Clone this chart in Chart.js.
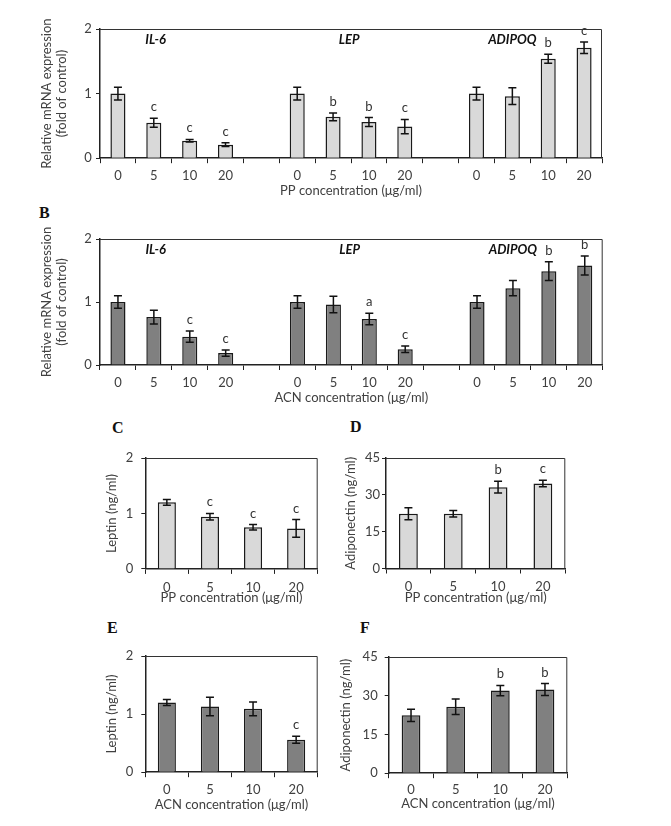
<!DOCTYPE html>
<html>
<head>
<meta charset="utf-8">
<script src="https://cdn.jsdelivr.net/npm/chart.js@4.4.0/dist/chart.umd.min.js"></script>
<style>
  body { margin: 0; background: #fff; width: 671px; height: 826px; position: relative; overflow: hidden; }
  canvas { position: absolute; }
  .tag { position: absolute; font: bold 16px "Liberation Serif", serif; color: #111; line-height: 16px; }
</style>
</head>
<body>
<div class="tag" style="left:39px;top:205px">B</div>
<div class="tag" style="left:112px;top:420px">C</div>
<div class="tag" style="left:350px;top:419px">D</div>
<div class="tag" style="left:107px;top:620px">E</div>
<div class="tag" style="left:360px;top:620px">F</div>
<script>
// doses (µg/ml) and gene names
const doses = ['0', '5', '10', '20'];
const genes = ['IL-6', 'LEP', 'ADIPOQ'];

// A: PP, relative mRNA (fold of control)
const ppIL6 = [1.00, 0.55, 0.27, 0.21];
const ppIL6Err = [0.10, 0.07, 0.02, 0.03];
const ppIL6Sig = ['', 'c', 'c', 'c'];
const ppLEP = [1.00, 0.64, 0.56, 0.49];
const ppLEPErr = [0.10, 0.06, 0.07, 0.11];
const ppLEPSig = ['', 'b', 'b', 'c'];
const ppADIPOQ = [1.00, 0.96, 1.54, 1.71];
const ppADIPOQErr = [0.10, 0.13, 0.07, 0.09];
const ppADIPOQSig = ['', '', 'b', 'c'];

// B: ACN, relative mRNA (fold of control)
const acnIL6 = [1.00, 0.76, 0.45, 0.19];
const acnIL6Err = [0.10, 0.11, 0.09, 0.05];
const acnIL6Sig = ['', '', 'c', 'c'];
const acnLEP = [1.00, 0.96, 0.73, 0.25];
const acnLEPErr = [0.10, 0.13, 0.09, 0.05];
const acnLEPSig = ['', '', 'a', 'c'];
const acnADIPOQ = [1.00, 1.22, 1.49, 1.58];
const acnADIPOQErr = [0.10, 0.12, 0.15, 0.15];
const acnADIPOQSig = ['', '', 'b', 'b'];

// C-F: secreted proteins
const ppLeptin = [1.20, 0.94, 0.75, 0.73];
const ppLeptinErr = [0.05, 0.06, 0.05, 0.16];
const ppLeptinSig = ['', 'c', 'c', 'c'];
const ppAdipo = [22.3, 22.3, 33.1, 34.6];
const ppAdipoErr = [2.4, 1.3, 2.4, 1.3];
const ppAdipoSig = ['', '', 'b', 'c'];
const acnLeptin = [1.20, 1.13, 1.09, 0.56];
const acnLeptinErr = [0.05, 0.16, 0.12, 0.06];
const acnLeptinSig = ['', '', '', 'c'];
const acnAdipo = [22.4, 25.7, 32.0, 32.4];
const acnAdipoErr = [2.4, 3.0, 2.0, 2.3];
const acnAdipoSig = ['', '', 'b', 'b'];

const FONT = 'Lato, "Open Sans", sans-serif';
const TXT = '#404040';
const LIGHT = '#d9d9d9';
const DARK = '#808080';

// three gene groups with an empty slot between them
function grouped(a, b, c) {
  return [...a, null, ...b, null, ...c];
}
const mrnaLabels = [...doses, '', ...doses, '', ...doses];

const barExtras = {
  id: 'barExtras',
  afterDatasetsDraw(chart, args, opts) {
    const { ctx, chartArea: ca, scales: { x, y } } = chart;
    const meta = chart.getDatasetMeta(0);
    ctx.save();
    ctx.strokeStyle = '#111';
    ctx.lineWidth = 1.5;
    meta.data.forEach((bar, i) => {
      const v = opts.values[i];
      if (v == null) return;
      const e = opts.errors[i];
      const top = y.getPixelForValue(v + e);
      const bot = y.getPixelForValue(v - e);
      ctx.beginPath();
      ctx.moveTo(bar.x, top); ctx.lineTo(bar.x, bot);
      ctx.moveTo(bar.x - 4, top); ctx.lineTo(bar.x + 4, top);
      ctx.moveTo(bar.x - 4, bot); ctx.lineTo(bar.x + 4, bot);
      ctx.stroke();
      if (opts.sig[i]) {
        ctx.fillStyle = '#333';
        ctx.font = '13px ' + FONT;
        ctx.textAlign = 'center';
        ctx.textBaseline = 'alphabetic';
        ctx.fillText(opts.sig[i], bar.x, top - 7);
      }
    });
    // gene names
    (opts.genes || []).forEach(g => {
      ctx.fillStyle = '#111';
      ctx.font = 'italic bold 13px ' + FONT;
      ctx.textAlign = 'center';
      ctx.textBaseline = 'middle';
      ctx.fillText(g.text, x.getPixelForValue(g.at), ca.top + 11);
    });
    // frame top and right
    ctx.strokeStyle = '#333';
    ctx.lineWidth = 1;
    ctx.beginPath();
    ctx.moveTo(ca.left, ca.top + 0.5); ctx.lineTo(ca.right - 0.5, ca.top + 0.5); ctx.lineTo(ca.right - 0.5, ca.bottom);
    ctx.stroke();
    ctx.restore();
  }
};

function panel(cfg) {
  const [pl, pt, pr, pb] = cfg.plot;
  const tSize = 13, lh = tSize * 1.2;
  const left = cfg.canvasLeft;
  const top = pt - cfg.padTop;
  const xAxisH = cfg.xTitleGap + lh / 2;
  const c = document.createElement('canvas');
  c.width = Math.round(pr + 12 - left);
  c.height = Math.round(pb + xAxisH - top);
  c.style.left = left + 'px';
  c.style.top = top + 'px';
  document.body.appendChild(c);
  new Chart(c, {
    type: 'bar',
    data: {
      labels: cfg.labels,
      datasets: [{
        data: cfg.values,
        backgroundColor: cfg.fill,
        borderColor: '#1a1a1a',
        borderWidth: 1.5,
        barPercentage: 0.42,
        categoryPercentage: 1
      }]
    },
    options: {
      responsive: false,
      animation: false,
      layout: { padding: { left: 0, top: cfg.padTop, right: c.width - (pr - left), bottom: 0 } },
      plugins: {
        legend: { display: false },
        tooltip: { enabled: false },
        barExtras: { values: cfg.values, errors: cfg.errors, sig: cfg.sig, genes: cfg.genes }
      },
      scales: {
        x: {
          grid: { offset: true, drawOnChartArea: false, tickLength: 5, color: '#222', lineWidth: 1 },
          border: { color: '#222', width: 1.5 },
          ticks: { color: TXT, font: { family: FONT, size: 13 }, padding: cfg.xLabelGap - 12, maxRotation: 0, autoSkip: false },
          title: { display: true, text: cfg.xTitle, color: TXT, font: { family: FONT, size: tSize }, padding: { top: 0, bottom: 0 } },
          afterFit: s => { s.height = xAxisH; }
        },
        y: {
          min: 0,
          max: cfg.yMax,
          grid: { drawOnChartArea: false, tickLength: 4, color: '#222', lineWidth: 1 },
          border: { color: '#222', width: 1.5 },
          ticks: { stepSize: cfg.yStep, color: TXT, font: { family: FONT, size: 13 }, padding: cfg.yLabelGap - 4 },
          title: { display: true, text: cfg.yTitle, color: TXT, font: { family: FONT, size: tSize }, padding: { top: cfg.yTitleX - left - lh / 2, bottom: 0 } },
          afterFit: s => { s.width = pl - left; }
        }
      }
    },
    plugins: [barExtras]
  });
}

const geneAt = [1.05, 6.45, 11.0];
const mrnaGenes = genes.map((g, i) => ({ text: g, at: geneAt[i] }));
const mrnaTitle = ['Relative mRNA expression', '(fold of control)'];

panel({
  plot: [100, 29, 602, 158], canvasLeft: 0, padTop: 29,
  labels: mrnaLabels,
  values: grouped(ppIL6, ppLEP, ppADIPOQ),
  errors: grouped(ppIL6Err, ppLEPErr, ppADIPOQErr),
  sig: grouped(ppIL6Sig, ppLEPSig, ppADIPOQSig),
  genes: mrnaGenes, fill: LIGHT, yMax: 2, yStep: 1,
  yTitle: mrnaTitle, yTitleX: 46.7, yLabelGap: 8.3,
  xTitle: 'PP concentration (μg/ml)', xTitleGap: 33, xLabelGap: 16.7
});
panel({
  plot: [100, 239.3, 602.7, 365.7], canvasLeft: 0, padTop: 30,
  labels: mrnaLabels,
  values: grouped(acnIL6, acnLEP, acnADIPOQ),
  errors: grouped(acnIL6Err, acnLEPErr, acnADIPOQErr),
  sig: grouped(acnIL6Sig, acnLEPSig, acnADIPOQSig),
  genes: mrnaGenes, fill: DARK, yMax: 2, yStep: 1,
  yTitle: mrnaTitle, yTitleX: 46.7, yLabelGap: 8.3,
  xTitle: 'ACN concentration (μg/ml)', xTitleGap: 33.2, xLabelGap: 16.6
});
panel({
  plot: [145.3, 457.7, 317.7, 569], canvasLeft: 95, padTop: 20,
  labels: doses, values: ppLeptin, errors: ppLeptinErr, sig: ppLeptinSig,
  fill: LIGHT, yMax: 2, yStep: 1,
  yTitle: 'Leptin (ng/ml)', yTitleX: 112.3, yLabelGap: 12,
  xTitle: 'PP concentration (μg/ml)', xTitleGap: 29.3, xLabelGap: 17.7
});
panel({
  plot: [386, 458.3, 565.3, 569.3], canvasLeft: 335, padTop: 20,
  labels: doses, values: ppAdipo, errors: ppAdipoErr, sig: ppAdipoSig,
  fill: LIGHT, yMax: 45, yStep: 15,
  yTitle: 'Adiponectin (ng/ml)', yTitleX: 350.7, yLabelGap: 6,
  xTitle: 'PP concentration (μg/ml)', xTitleGap: 29.7, xLabelGap: 17.4
});
panel({
  plot: [145.3, 655.7, 317.7, 772], canvasLeft: 95, padTop: 20,
  labels: doses, values: acnLeptin, errors: acnLeptinErr, sig: acnLeptinSig,
  fill: DARK, yMax: 2, yStep: 1,
  yTitle: 'Leptin (ng/ml)', yTitleX: 112.3, yLabelGap: 12,
  xTitle: 'ACN concentration (μg/ml)', xTitleGap: 33, xLabelGap: 17
});
panel({
  plot: [388.7, 656.7, 567.3, 773.3], canvasLeft: 330, padTop: 20,
  labels: doses, values: acnAdipo, errors: acnAdipoErr, sig: acnAdipoSig,
  fill: DARK, yMax: 45, yStep: 15,
  yTitle: 'Adiponectin (ng/ml)', yTitleX: 345.7, yLabelGap: 11,
  xTitle: 'ACN concentration (μg/ml)', xTitleGap: 31, xLabelGap: 15.7
});
</script>
</body>
</html>
